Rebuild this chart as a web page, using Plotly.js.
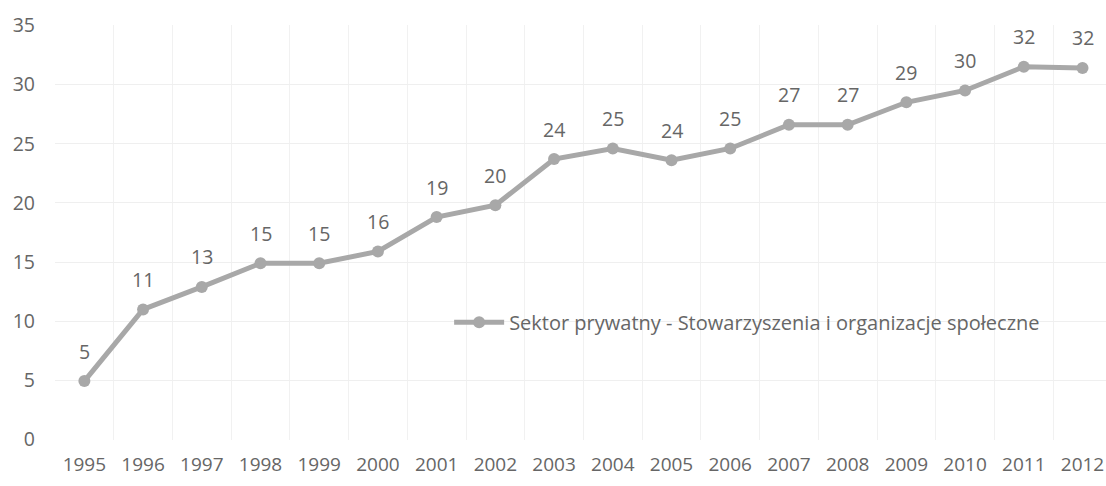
<!DOCTYPE html>
<html>
<head>
<meta charset="utf-8">
<script src="https://cdn.plot.ly/plotly-3.0.1.min.js"></script>
<style>html,body{margin:0;padding:0;background:#fff;}#chart{width:1106px;height:486px;}</style>
</head>
<body>
<div id="chart"></div>
<script>
var years = [1995,1996,1997,1998,1999,2000,2001,2002,2003,2004,2005,2006,2007,2008,2009,2010,2011,2012];
var values = [4.95,11.0,12.9,14.9,14.9,15.9,18.8,19.8,23.7,24.6,23.6,24.6,26.6,26.6,28.5,29.5,31.5,31.4];
var labels = ["5","11","13","15","15","16","19","20","24","25","24","25","27","27","29","30","32","32"];
var seriesName = "Sektor prywatny - Stowarzyszenia i organizacje społeczne";

var FONT = "Open Sans, Noto Sans, sans-serif";
var TXT = "#666666";
var LINE = "#a8a8a8";

var trace = {
  x: years, y: values, type: "scatter", mode: "lines+markers",
  name: seriesName,
  line: {color: LINE, width: 5},
  marker: {color: LINE, size: 12},
  hoverinfo: "skip"
};

var annotations = years.map(function(yr, i){
  return {x: yr, y: values[i], text: labels[i], showarrow: false, yshift: 30,
          font: {family: FONT, size: 19.5, color: TXT}};
});

var layout = {
  width: 1106, height: 486,
  margin: {l: 55, r: 0, t: 25, b: 46, pad: 0},
  paper_bgcolor: "#fff", plot_bgcolor: "#fff",
  showlegend: true,
  legend: {x: 0.375, y: 0.284, xanchor: "left", yanchor: "middle", bgcolor: "rgba(0,0,0,0)",
           itemwidth: 50, font: {family: FONT, size: 20, color: TXT}},
  xaxis: {
    range: [1994.5, 2012.4], tickvals: years, ticktext: years.map(String),
    showgrid: false, zeroline: false, showline: false, ticks: "",
    ticklabelstandoff: 11, ticklabeloverflow: "allow",
    tickfont: {family: FONT, size: 19, color: TXT},
    minor: {tick0: 1994.5, dtick: 1, showgrid: true, gridcolor: "#f1f1f1", gridwidth: 1, ticks: ""}
  },
  yaxis: {
    range: [-0.03, 35.03], dtick: 5, tick0: 0,
    showgrid: true, gridcolor: "#efefef", gridwidth: 1, zeroline: false, showline: false, ticks: "",
    ticklabelstandoff: 19,
    tickfont: {family: FONT, size: 19.5, color: TXT}
  },
  annotations: annotations
};

Plotly.newPlot("chart", [trace], layout, {displayModeBar: false, staticPlot: true});
</script>
</body>
</html>
